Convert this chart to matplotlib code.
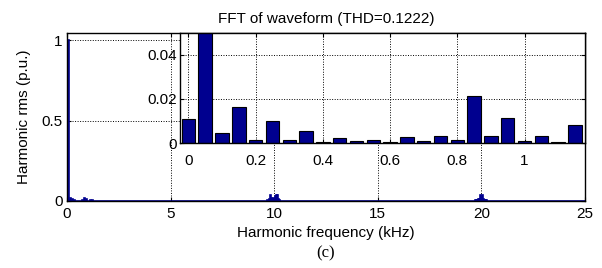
import matplotlib
matplotlib.use("Agg")
import matplotlib.pyplot as plt
import numpy as np

plt.rcParams['font.family'] = ['Liberation Sans', 'DejaVu Sans']
plt.rcParams['font.size'] = 11

# harmonic spectrum, 50 Hz bins (kHz)
bin_step = 0.05
n_bins = 501

# low-order harmonics 0 .. 1.15 kHz (also shown in the inset)
low_mag = [0.0108, 1.0, 0.0046, 0.0164, 0.0015, 0.0100, 0.0015, 0.0054,
           0.0004, 0.0022, 0.0010, 0.0015, 0.0005, 0.0026, 0.0010, 0.0033,
           0.0014, 0.0212, 0.0031, 0.0112, 0.0010, 0.0031, 0.0003, 0.0082,
           0.0020, 0.0040, 0.0010]

# sideband clusters around the switching frequency and its double
sb1_freq = [9.70, 9.75, 9.80, 9.85, 9.90, 9.95, 10.00, 10.05, 10.10, 10.15, 10.20, 10.25]
sb1_mag = [0.008, 0.015, 0.035, 0.020, 0.010, 0.020, 0.005, 0.030, 0.040, 0.035, 0.015, 0.006]
sb2_freq = [19.70, 19.75, 19.80, 19.85, 19.90, 19.95, 20.00, 20.05, 20.10, 20.15, 20.20, 20.25]
sb2_mag = [0.004, 0.006, 0.008, 0.010, 0.012, 0.035, 0.020, 0.035, 0.012, 0.008, 0.006, 0.004]

thd = 0.1222

freq = np.arange(n_bins) * bin_step
mag = np.zeros(n_bins)
mag[:len(low_mag)] = low_mag
for f, m in zip(sb1_freq + sb2_freq, sb1_mag + sb2_mag):
    mag[int(round(f / bin_step))] = m

bar_col = '#00008f'
grid_kw = dict(color='black', linestyle=(0, (1, 1.6)), linewidth=0.7)

fig = plt.figure(figsize=(6.02, 2.68), dpi=100)

# main axes
ax = fig.add_axes([0.1113, 0.25, 0.8605, 0.6269])
ax.bar(freq, mag, width=0.05, color=bar_col, edgecolor=bar_col, linewidth=1.2)
ax.set_xlim(0, 25)
ax.set_ylim(0, 1.045)
ax.set_xticks([0, 5, 10, 15, 20, 25])
ax.set_yticks([0, 0.5, 1])
ax.set_yticklabels(['0', '0.5', '1'])
ax.grid(True, **grid_kw)
ax.set_axisbelow(True)
ax.tick_params(direction='in', length=3, top=True, right=True, pad=3)
ax.tick_params(axis='x', pad=4)
ax.set_xlabel('Harmonic frequency (kHz)', labelpad=4)
ax.set_ylabel('Harmonic rms (p.u.)', labelpad=8)
ax.set_title('FFT of waveform (THD=%.4f)' % thd, fontsize=11, pad=7)
for s in ax.spines.values():
    s.set_linewidth(1.0)

# inset zoom on low-order harmonics
n_in = 24
axi = fig.add_axes([0.299, 0.4664, 0.6728, 0.4105])
axi.bar(freq[:n_in], mag[:n_in], width=0.04, color=bar_col,
        edgecolor='black', linewidth=0.8)
axi.set_xlim(-0.025, 1.18)
axi.set_ylim(0, 0.05)
axi.set_xticks([0, 0.2, 0.4, 0.6, 0.8, 1.0])
axi.set_xticklabels(['0', '0.2', '0.4', '0.6', '0.8', '1'])
axi.set_yticks([0, 0.02, 0.04])
axi.set_yticklabels(['0', '0.02', '0.04'])
axi.grid(True, **grid_kw)
axi.set_axisbelow(True)
axi.tick_params(direction='in', length=3, top=True, right=True, pad=2)
axi.tick_params(axis='x', pad=8)
for s in axi.spines.values():
    s.set_linewidth(1.0)

fig.text(0.54, 0.055, '(c)', ha='center', va='center',
         family='Liberation Serif', fontsize=12)

fig.savefig('out.png', dpi=100)
